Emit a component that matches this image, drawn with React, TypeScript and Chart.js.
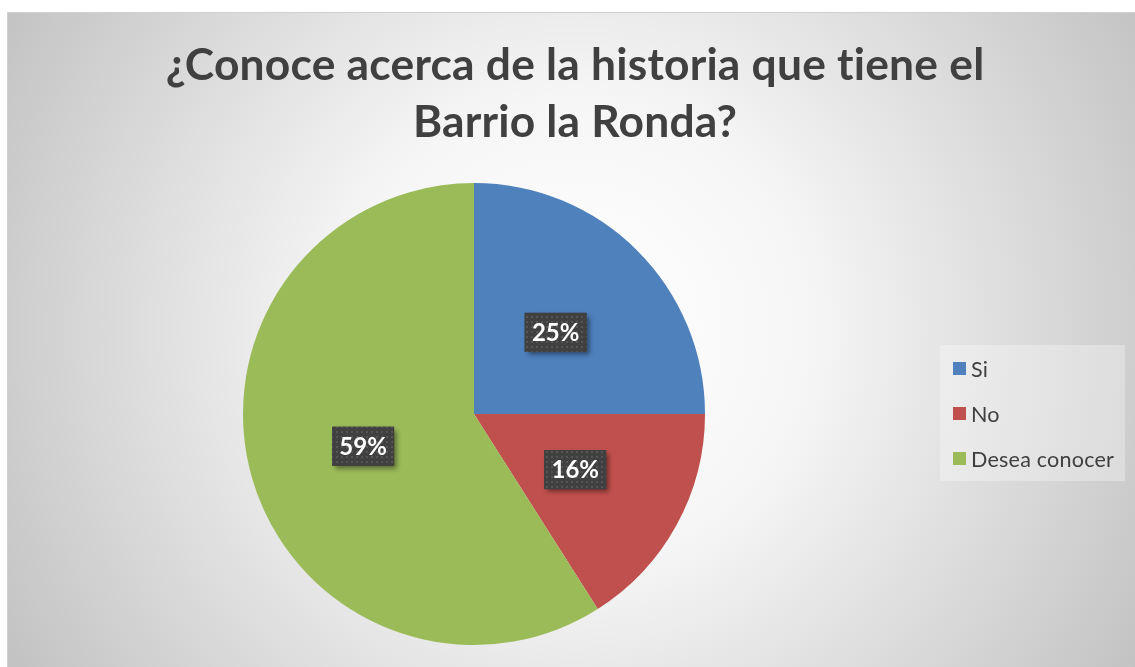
import React, { useEffect, useRef } from "react";
import { Chart, registerables } from "chart.js";

Chart.register(...registerables);

const categories: string[] = ["Si", "No", "Desea conocer"];
const values: number[] = [25, 16, 59];
const colors: string[] = ["#4F81BD", "#C0504D", "#9BBB59"];
const titleLines: string[] = ["¿Conoce acerca de la historia que tiene el", "Barrio la Ronda?"];

const W = 1135;
const H = 667;
const FONT = "Lato, 'Open Sans', sans-serif";

function fitFont(ctx: CanvasRenderingContext2D, text: string, weight: string, target: number): number {
  ctx.font = `${weight} 40px ${FONT}`;
  const w = ctx.measureText(text).width;
  return (40 * target) / w;
}

const decorPlugin = {
  id: "decor",
  beforeDraw(chart: any) {
    const ctx: CanvasRenderingContext2D = chart.ctx;
    ctx.save();
    (ctx as any).letterSpacing = "0.2px";
    ctx.fillStyle = "#ffffff";
    ctx.fillRect(0, 0, W, H);
    const bx = 7, by = 12;
    const g = ctx.createRadialGradient(575, 330, 0, 575, 330, 660);
    g.addColorStop(0, "#ffffff");
    g.addColorStop(0.35, "#f6f6f6");
    g.addColorStop(1, "#c2c2c2");
    ctx.fillStyle = g;
    ctx.fillRect(bx, by, W - bx, H - by);
    ctx.strokeStyle = "#d0d0d0";
    ctx.lineWidth = 1;
    ctx.strokeRect(bx + 0.5, by + 0.5, W - bx, H - by);

    // title
    const size = fitFont(ctx, titleLines[0], "bold", 820);
    ctx.font = `bold ${size}px ${FONT}`;
    ctx.fillStyle = "#404040";
    ctx.textAlign = "center";
    ctx.textBaseline = "alphabetic";
    ctx.fillText(titleLines[0], 575, 80);
    ctx.fillText(titleLines[1], 575, 137);

    // legend
    ctx.fillStyle = "rgba(255,255,255,0.3)";
    ctx.fillRect(940, 345, 185, 136);
    const lsize = fitFont(ctx, categories[2], "normal", 142);
    ctx.font = `normal ${lsize}px ${FONT}`;
    ctx.textAlign = "left";
    ctx.textBaseline = "middle";
    const ys = [369, 414, 459];
    categories.forEach((c, i) => {
      ctx.fillStyle = colors[i];
      ctx.fillRect(953, ys[i] - 7, 13, 13);
      ctx.fillStyle = "#404040";
      ctx.fillText(c, 971, ys[i] + 1);
    });
    ctx.restore();
  },
};

let patternCanvas: HTMLCanvasElement | null = null;
function getPattern(ctx: CanvasRenderingContext2D) {
  if (!patternCanvas) {
    patternCanvas = document.createElement("canvas");
    patternCanvas.width = 5;
    patternCanvas.height = 5;
    const p = patternCanvas.getContext("2d")!;
    p.fillStyle = "#404040";
    p.fillRect(0, 0, 5, 5);
    p.fillStyle = "#555555";
    p.fillRect(1, 1, 2, 2);
  }
  return ctx.createPattern(patternCanvas, "repeat");
}

const labelPlugin = {
  id: "boxLabels",
  afterDatasetsDraw(chart: any) {
    const ctx: CanvasRenderingContext2D = chart.ctx;
    const meta = chart.getDatasetMeta(0);
    const data: number[] = chart.data.datasets[0].data;
    const total = data.reduce((a, b) => a + b, 0);
    meta.data.forEach((arc: any, i: number) => {
      const { x, y } = arc.getCenterPoint();
      const text = Math.round((data[i] / total) * 100) + "%";
      const bw = 62, bh = 39;
      ctx.save();
      ctx.shadowColor = "rgba(0,0,0,0.45)";
      ctx.shadowBlur = 5;
      ctx.shadowOffsetX = 3;
      ctx.shadowOffsetY = 3;
      ctx.fillStyle = "#404040";
      ctx.fillRect(x - bw / 2, y - bh / 2, bw, bh);
      ctx.restore();
      ctx.save();
      ctx.fillStyle = getPattern(ctx) as any;
      ctx.fillRect(x - bw / 2, y - bh / 2, bw, bh);
      ctx.font = `bold 24px ${FONT}`;
      ctx.fillStyle = "#ffffff";
      ctx.textAlign = "center";
      ctx.textBaseline = "middle";
      ctx.fillText(text, x, y + 1);
      ctx.restore();
    });
  },
};

export default function App() {
  const ref = useRef<HTMLCanvasElement | null>(null);
  useEffect(() => {
    document.body.style.margin = "0";
    const chart = new Chart(ref.current!, {
      type: "pie",
      data: {
        labels: categories,
        datasets: [
          {
            data: values,
            backgroundColor: colors,
            borderWidth: 0,
          },
        ],
      },
      options: {
        responsive: false,
        animation: false,
        layout: { padding: { left: 243, right: 430, top: 183, bottom: 22 } },
        plugins: {
          legend: { display: false },
          title: { display: false },
          tooltip: { enabled: false },
        },
      },
      plugins: [decorPlugin, labelPlugin],
    });
    return () => chart.destroy();
  }, []);
  return (
    <div style={{ position: "absolute", left: 0, top: 0, width: W, height: H }}>
      <canvas ref={ref} width={W} height={H} style={{ width: W, height: H, display: "block" }} />
    </div>
  );
}
